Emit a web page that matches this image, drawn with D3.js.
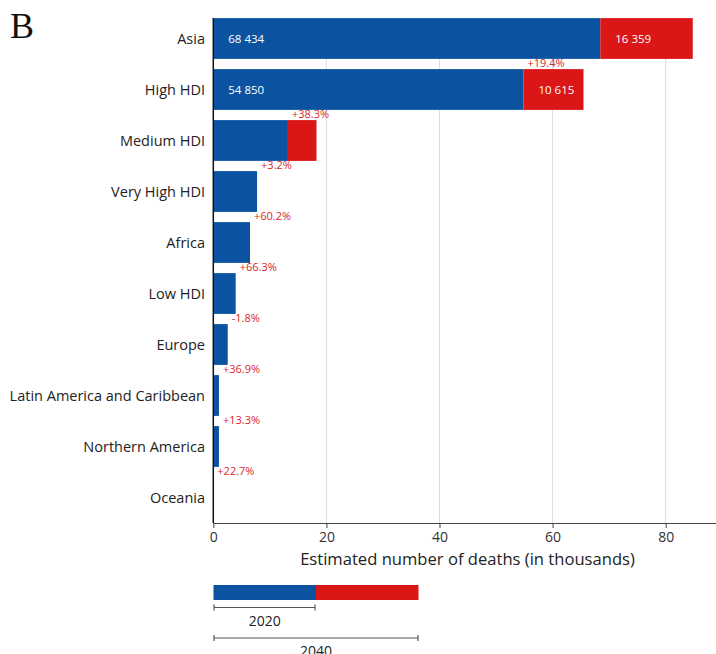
<!DOCTYPE html>
<html>
<head>
<meta charset="utf-8">
<script src="https://cdn.jsdelivr.net/npm/d3@7"></script>
<style>
  html, body { margin: 0; padding: 0; background: #fff; }
  svg { display: block; font-family: "Open Sans", "Noto Sans", sans-serif; }
</style>
</head>
<body>
<svg id="chart" width="716" height="654"></svg>
<script>
// ---- data ----
const categories = ["Asia", "High HDI", "Medium HDI", "Very High HDI", "Africa",
  "Low HDI", "Europe", "Latin America and Caribbean", "Northern America", "Oceania"];
// estimated deaths in 2020 (thousands)
const deaths2020 = [68.434, 54.850, 13.2, 7.74, 6.49, 3.96, 2.55, 1.0, 1.0, 0];
// additional deaths by 2040 (thousands), drawn only where shown
const increase2040 = [16.359, 10.615, 5.05, null, null, null, null, null, null, null];
// value labels inside bars
const label2020 = ["68 434", "54 850", "", "", "", "", "", "", "", ""];
const labelIncrease = ["16 359", "10 615", "", "", "", "", "", "", "", ""];
// percentage change 2020 -> 2040
const pctChange = [null, "+19.4%", "+38.3%", "+3.2%", "+60.2%", "+66.3%", "-1.8%", "+36.9%", "+13.3%", "+22.7%"];
const xTicks = [0, 20, 40, 60, 80];
const legendYears = ["2020", "2040"];

// ---- layout ----
const BLUE = "#0b53a1", RED = "#db1616", PCT = "#d9262c";
const svg = d3.select("#chart");
const x = d3.scaleLinear().domain([0, 88.9]).range([213.3, 716]);
const y = d3.scaleBand().domain(categories).range([13, 523]).paddingInner(0.2).paddingOuter(0.1);
const plotTop = y(categories[0]);
const plotBottom = 523;

// title letter
svg.append("text").attr("x", 10).attr("y", 38)
  .attr("font-family", "'Liberation Serif', 'DejaVu Serif', serif")
  .attr("font-size", 36).attr("fill", "#111").text("B");

// grid
svg.append("g").selectAll("line").data(xTicks.filter(d => d > 0)).join("line")
  .attr("x1", d => x(d)).attr("x2", d => x(d))
  .attr("y1", plotTop).attr("y2", plotBottom)
  .attr("stroke", "#dcdcdc").attr("stroke-width", 1);

// bars 2020
svg.append("g").selectAll("rect").data(categories).join("rect")
  .attr("x", x(0))
  .attr("y", d => y(d))
  .attr("width", (d, i) => x(deaths2020[i]) - x(0))
  .attr("height", y.bandwidth())
  .attr("fill", BLUE);

// increase bars
svg.append("g").selectAll("rect").data(categories.filter((d, i) => increase2040[i] != null)).join("rect")
  .attr("x", d => x(deaths2020[categories.indexOf(d)]))
  .attr("y", d => y(d))
  .attr("width", d => { const i = categories.indexOf(d); return x(deaths2020[i] + increase2040[i]) - x(deaths2020[i]); })
  .attr("height", y.bandwidth())
  .attr("fill", RED);

// inside labels
const inner = svg.append("g").attr("font-size", 11.5).attr("fill", "#fff");
categories.forEach((c, i) => {
  if (label2020[i]) {
    inner.append("text").attr("x", x(0) + 15).attr("y", y(c) + y.bandwidth() / 2)
      .attr("dy", "0.35em").text(label2020[i]);
  }
  if (labelIncrease[i]) {
    inner.append("text").attr("x", x(deaths2020[i]) + 15).attr("y", y(c) + y.bandwidth() / 2)
      .attr("dy", "0.35em").text(labelIncrease[i]);
  }
});

// percentage labels
svg.append("g").attr("font-size", 11).attr("fill", PCT)
  .selectAll("text").data(categories.filter((d, i) => pctChange[i])).join("text")
  .attr("x", d => x(deaths2020[categories.indexOf(d)]) + 4)
  .attr("y", d => y(d) - 2)
  .text(d => pctChange[categories.indexOf(d)]);

// y axis (labels + line)
svg.append("g").attr("font-size", 14.5).attr("fill", "#222").attr("text-anchor", "end")
  .selectAll("text").data(categories).join("text")
  .attr("x", 205).attr("y", d => y(d) + y.bandwidth() / 2).attr("dy", "0.35em")
  .text(d => d);
svg.append("line").attr("x1", x(0)).attr("x2", x(0)).attr("y1", plotTop).attr("y2", plotBottom)
  .attr("stroke", "#111").attr("stroke-width", 1.5);

// x axis
const xAxis = svg.append("g").attr("transform", `translate(0,${plotBottom})`)
  .call(d3.axisBottom(x).tickValues(xTicks).tickSize(5).tickSizeOuter(0).tickPadding(4));
xAxis.select(".domain").attr("stroke", "#444").attr("stroke-width", 1.2);
xAxis.selectAll(".tick line").attr("stroke", "#444");
xAxis.selectAll(".tick text").attr("font-size", 14).attr("fill", "#333")
  .attr("font-family", "'Open Sans', sans-serif");

svg.append("text").attr("x", 467.5).attr("y", 565).attr("text-anchor", "middle")
  .attr("font-size", 16.6).attr("fill", "#222")
  .text("Estimated number of deaths (in thousands)");

// legend
const lg = svg.append("g");
const lx0 = 213.5, lmid = 316, lx1 = 418.5;
lg.append("rect").attr("x", lx0).attr("y", 585).attr("width", lmid - lx0).attr("height", 15).attr("fill", BLUE);
lg.append("rect").attr("x", lmid).attr("y", 585).attr("width", lx1 - lmid).attr("height", 15).attr("fill", RED);
function bracket(xa, xb, yy) {
  lg.append("line").attr("x1", xa).attr("x2", xb).attr("y1", yy).attr("y2", yy).attr("stroke", "#555").attr("stroke-width", 1.2);
  [xa, xb].forEach(v => lg.append("line").attr("x1", v).attr("x2", v).attr("y1", yy - 3).attr("y2", yy + 3).attr("stroke", "#555").attr("stroke-width", 1.2));
}
bracket(lx0 + 0.5, lmid - 1, 607.5);
bracket(lx0 + 0.5, lx1 - 0.5, 638);
lg.append("text").attr("x", (lx0 + lmid) / 2).attr("y", 626).attr("text-anchor", "middle")
  .attr("font-size", 14).attr("fill", "#222").text(legendYears[0]);
lg.append("text").attr("x", (lx0 + lx1) / 2).attr("y", 656).attr("text-anchor", "middle")
  .attr("font-size", 14).attr("fill", "#222").text(legendYears[1]);
</script>
</body>
</html>
